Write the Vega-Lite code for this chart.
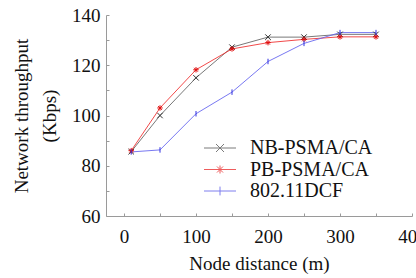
{
  "$schema": "https://vega.github.io/schema/vega-lite/v6.json",
  "width": 306,
  "height": 201,
  "autosize": "none",
  "padding": {"left": 106, "top": 15, "right": 4, "bottom": 62},
  "background": "white",
  "config": {
    "view": {"stroke": null},
    "font": "Liberation Serif",
    "axis": {
      "domainColor": "#9a9a9a",
      "tickColor": "#9a9a9a",
      "grid": false,
      "tickSize": -3,
      "labelFont": "Liberation Serif",
      "labelFontSize": 19,
      "labelColor": "#111",
      "titleFont": "Liberation Serif",
      "titleFontWeight": "normal",
      "titleFontSize": 19,
      "titleColor": "#111"
    },
    "legend": {
      "labelFont": "Liberation Serif"
    }
  },
  "data": {
    "values": [
      {"series": "NB-PSMA/CA", "mk": "NB-PSMA/CA", "x": 10, "y": 85.6},
      {"series": "NB-PSMA/CA", "mk": "NB-PSMA/CA", "x": 50, "y": 100},
      {"series": "NB-PSMA/CA", "mk": "NB-PSMA/CA", "x": 100, "y": 115},
      {"series": "NB-PSMA/CA", "mk": "NB-PSMA/CA", "x": 150, "y": 127.2},
      {"series": "NB-PSMA/CA", "mk": "NB-PSMA/CA", "x": 200, "y": 131.2},
      {"series": "NB-PSMA/CA", "mk": "NB-PSMA/CA", "x": 250, "y": 131.2},
      {"series": "NB-PSMA/CA", "mk": "NB-PSMA/CA", "x": 300, "y": 132.3},
      {"series": "NB-PSMA/CA", "mk": "NB-PSMA/CA", "x": 350, "y": 132.3},
      {"series": "PB-PSMA/CA", "mk": "PB-PSMA/CA", "x": 10, "y": 86},
      {"series": "PB-PSMA/CA", "mk": "PB-PSMA/CA", "x": 50, "y": 103},
      {"series": "PB-PSMA/CA", "mk": "PB-PSMA/CA", "x": 100, "y": 118.2},
      {"series": "PB-PSMA/CA", "mk": "PB-PSMA/CA", "x": 150, "y": 126.5},
      {"series": "PB-PSMA/CA", "mk": "PB-PSMA/CA", "x": 200, "y": 129},
      {"series": "PB-PSMA/CA", "mk": "PB-PSMA/CA", "x": 250, "y": 130.3},
      {"series": "PB-PSMA/CA", "mk": "PB-PSMA/CA", "x": 300, "y": 131.3},
      {"series": "PB-PSMA/CA", "mk": "PB-PSMA/CA", "x": 350, "y": 131.3},
      {"series": "802.11DCF", "mk": "802.11DCF", "x": 10, "y": 85.5},
      {"series": "802.11DCF", "mk": "802.11DCF", "x": 50, "y": 86.3},
      {"series": "802.11DCF", "mk": "802.11DCF", "x": 100, "y": 100.7},
      {"series": "802.11DCF", "mk": "802.11DCF", "x": 150, "y": 109.3},
      {"series": "802.11DCF", "mk": "802.11DCF", "x": 200, "y": 121.5},
      {"series": "802.11DCF", "mk": "802.11DCF", "x": 250, "y": 128.7},
      {"series": "802.11DCF", "mk": "802.11DCF", "x": 300, "y": 133},
      {"series": "802.11DCF", "mk": "802.11DCF", "x": 350, "y": 133}
    ]
  },
  "encoding": {
    "x": {
      "field": "x",
      "type": "quantitative",
      "scale": {"domain": [-25, 400], "nice": false, "zero": false},
      "axis": {
        "title": "Node distance (m)",
        "values": [0, 50, 100, 150, 200, 250, 300, 350, 400],
        "labelExpr": "datum.value % 100 == 0 ? datum.label : ''",
        "labelPadding": 14,
        "titlePadding": 8,
        "labelFlush": false,
        "labelOverlap": false
      }
    },
    "y": {
      "field": "y",
      "type": "quantitative",
      "scale": {"domain": [60, 140], "nice": false, "zero": false},
      "axis": {
        "title": ["Network throughput", "(Kbps)"],
        "titleLineHeight": 28,
        "values": [60, 70, 80, 90, 100, 110, 120, 130, 140],
        "labelExpr": "datum.value % 20 == 0 ? datum.label : ''",
        "labelPadding": 9,
        "titlePadding": 12,
        "labelFlush": false,
        "labelOverlap": false
      }
    }
  },
  "resolve": {"scale": {"color": "independent", "shape": "independent"}},
  "layer": [
    {
      "mark": {"type": "line", "strokeWidth": 1, "opacity": 0.85},
      "encoding": {
        "color": {
          "field": "series",
          "type": "nominal",
          "scale": {"domain": ["NB-PSMA/CA", "PB-PSMA/CA", "802.11DCF"], "range": ["#606060", "#ee2a2a", "#6060ee"]},
          "legend": null
        }
      }
    },
    {
      "mark": {"type": "point", "filled": false, "size": 30, "strokeWidth": 1, "opacity": 1},
      "encoding": {
        "color": {
          "field": "series",
          "type": "nominal",
          "scale": {"domain": ["NB-PSMA/CA", "PB-PSMA/CA", "802.11DCF"], "range": ["#333333", "#e01010", "#3030e0"]},
          "legend": null
        },
        "shape": {
          "field": "mk",
          "type": "nominal",
          "scale": {
            "domain": ["NB-PSMA/CA", "PB-PSMA/CA", "802.11DCF"],
            "range": [
              "M-1,-1L1,1M-1,1L1,-1",
              "M-1,0L1,0M0,-1L0,1M-0.7,-0.7L0.7,0.7M-0.7,0.7L0.7,-0.7",
              "M0,-1L0,1"
            ]
          },
          "legend": null
        }
      }
    },
    {
      "transform": [{"filter": "false"}],
      "mark": {"type": "point", "filled": false, "size": 64, "strokeWidth": 1},
      "encoding": {
        "color": {
          "field": "series",
          "type": "nominal",
          "scale": {"domain": ["NB-PSMA/CA", "PB-PSMA/CA", "802.11DCF"], "range": ["#444444", "#e81818", "#4848e8"]},
          "legend": {
            "title": null,
            "orient": "none",
            "legendX": 104,
            "legendY": 123,
            "labelFont": "Liberation Serif",
            "labelFontSize": 20,
            "labelColor": "#111",
            "labelOffset": 20,
            "rowPadding": 1.5,
            "symbolSize": 64,
            "symbolStrokeWidth": 1
          }
        },
        "shape": {
          "field": "series",
          "type": "nominal",
          "scale": {
            "domain": ["NB-PSMA/CA", "PB-PSMA/CA", "802.11DCF"],
            "range": [
              "M-4,0L4,0M-1,-1L1,1M-1,1L1,-1",
              "M-4,0L4,0M0,-1L0,1M-0.75,-0.75L0.75,0.75M-0.75,0.75L0.75,-0.75",
              "M-4,0L4,0M0,-1.1L0,1.1"
            ]
          },
          "legend": {
            "title": null,
            "orient": "none",
            "legendX": 104,
            "legendY": 123,
            "labelFont": "Liberation Serif",
            "labelFontSize": 20,
            "labelColor": "#111",
            "labelOffset": 20,
            "rowPadding": 1.5,
            "symbolSize": 64,
            "symbolStrokeWidth": 1
          }
        }
      }
    }
  ]
}
